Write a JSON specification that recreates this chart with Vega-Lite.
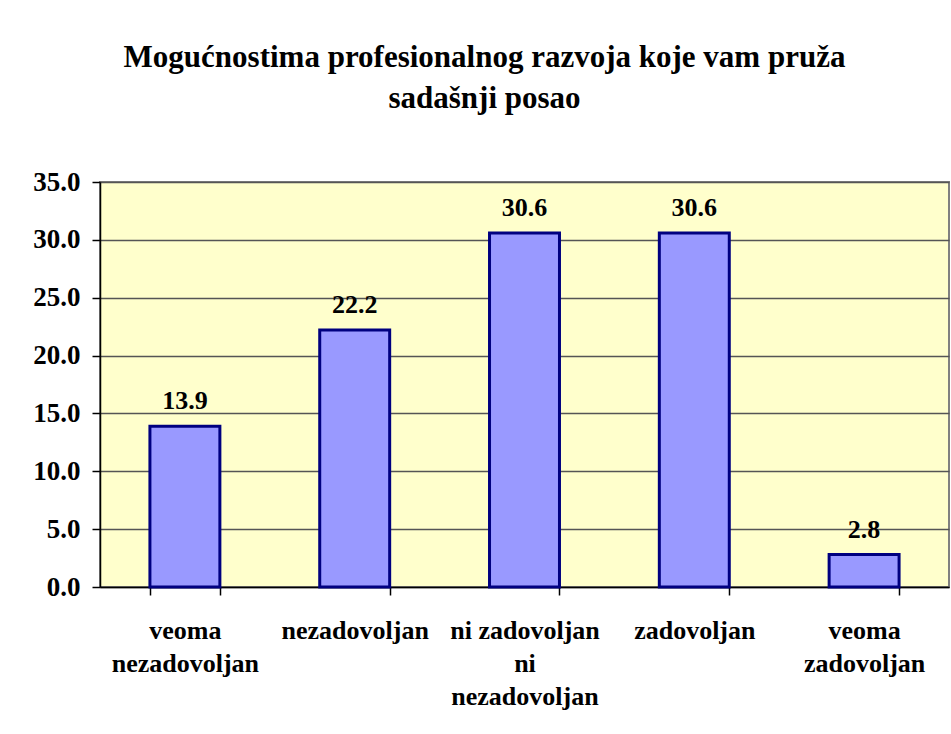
{
  "$schema": "https://vega.github.io/schema/vega-lite/v6.json",
  "autosize": "none",
  "width": 849,
  "height": 405,
  "padding": {"left": 100, "top": 182, "right": 2, "bottom": 147},
  "background": "white",
  "title": {
    "text": ["Mogućnostima profesionalnog razvoja koje vam pruža", "sadašnji posao"],
    "font": "Liberation Serif, Times New Roman, serif",
    "fontSize": 31,
    "fontWeight": "bold",
    "color": "black",
    "lineHeight": 41,
    "anchor": "middle",
    "frame": "group",
    "dx": -40,
    "offset": 53
  },
  "data": {
    "values": [
      {"kategorija": "veoma|nezadovoljan", "vrednost": 13.9},
      {"kategorija": "nezadovoljan", "vrednost": 22.2},
      {"kategorija": "ni zadovoljan|ni|nezadovoljan", "vrednost": 30.6},
      {"kategorija": "zadovoljan", "vrednost": 30.6},
      {"kategorija": "veoma|zadovoljan", "vrednost": 2.8}
    ]
  },
  "encoding": {
    "x": {
      "field": "kategorija",
      "type": "nominal",
      "sort": null,
      "scale": {"paddingInner": 0.588, "paddingOuter": 0.294},
      "axis": {
        "title": null,
        "labelAngle": 0,
        "labelExpr": "split(datum.label, '|')",
        "labelFont": "Liberation Serif, Times New Roman, serif",
        "labelFontSize": 26,
        "labelFontWeight": "bold",
        "labelColor": "black",
        "labelLineHeight": 33,
        "labelPadding": 22,
        "tickBand": "extent",
        "tickSize": 8,
        "tickColor": "black",
        "tickWidth": 1.5,
        "domainColor": "black",
        "domainWidth": 1.5,
        "grid": false
      }
    },
    "y": {
      "field": "vrednost",
      "type": "quantitative",
      "scale": {"domain": [0, 35], "nice": false},
      "axis": {
        "title": null,
        "values": [0, 5, 10, 15, 20, 25, 30, 35],
        "format": ".1f",
        "labelFont": "Liberation Serif, Times New Roman, serif",
        "labelFontSize": 27,
        "labelFontWeight": "bold",
        "labelColor": "black",
        "labelPadding": 12,
        "tickSize": 8,
        "tickColor": "black",
        "tickWidth": 1.5,
        "domainColor": "black",
        "domainWidth": 1.5,
        "grid": true,
        "gridColor": "#555555",
        "gridWidth": 1.5
      }
    }
  },
  "layer": [
    {
      "mark": {"type": "bar", "fill": "#9999FF", "stroke": "#000080", "strokeWidth": 3}
    },
    {
      "mark": {
        "type": "text",
        "font": "Liberation Serif, Times New Roman, serif",
        "fontSize": 26,
        "fontWeight": "bold",
        "color": "black",
        "baseline": "alphabetic",
        "dy": -17
      },
      "encoding": {
        "text": {"field": "vrednost", "type": "quantitative", "format": ".1f"}
      }
    }
  ],
  "config": {
    "view": {"fill": "#FFFFCC", "stroke": "#808080", "strokeWidth": 2}
  }
}
